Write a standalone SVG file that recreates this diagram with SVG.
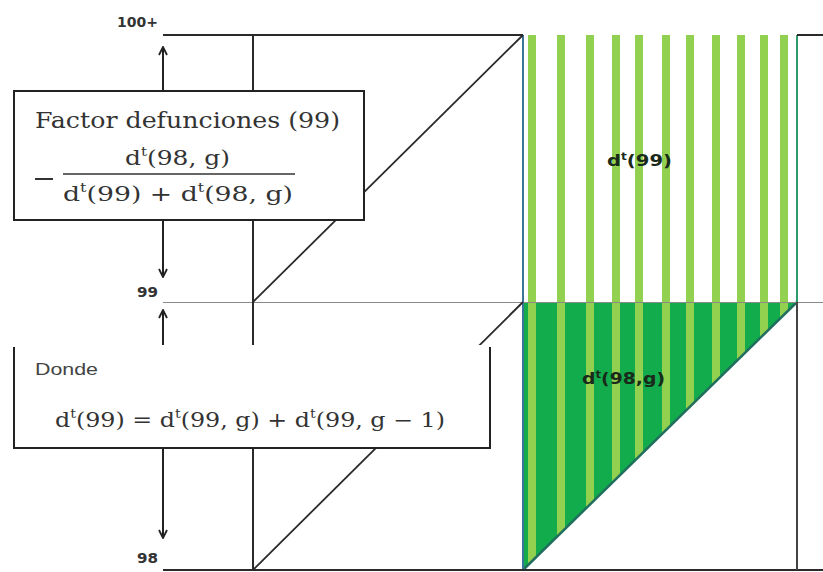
<svg xmlns="http://www.w3.org/2000/svg" width="823" height="572" viewBox="0 0 823 572">
<defs>
<style>
.ln{stroke:#2a2a2a;stroke-width:2;fill:none}
.thin{stroke:#8a8a8a;stroke-width:1.2;fill:none}
.arr{stroke:#222;stroke-width:2;fill:none;marker-end:url(#ah)}
.box{fill:#fff;stroke:#222;stroke-width:2}
.lbl{font-family:"DejaVu Sans",sans-serif;font-size:14px;font-weight:bold;fill:#333}
.math{font-family:"DejaVu Serif",serif;fill:#333}
.stripe{fill:#92D050}
.gl{font-family:"DejaVu Sans",sans-serif;font-weight:bold;font-size:16px;fill:#1a2a1a}
</style>
<marker id="ah" viewBox="0 0 10 10" refX="9" refY="5" markerWidth="10" markerHeight="10" markerUnits="userSpaceOnUse" orient="auto">
<path d="M1,1 L9,5 L1,9" fill="none" stroke="#222" stroke-width="1.8"/>
</marker>
<clipPath id="greenClip">
<polygon points="523,35 797,35 797,302 523,570"/>
</clipPath>
</defs>
<rect width="823" height="572" fill="#fff"/>

<g id="green-area">
<polygon points="523,302 797,302 523,570" fill="#12AC4C"/>
<g clip-path="url(#greenClip)">
<rect class="stripe" x="528" y="35" width="8" height="540"/>
<rect class="stripe" x="557" y="35" width="8" height="540"/>
<rect class="stripe" x="586" y="35" width="8" height="540"/>
<rect class="stripe" x="612" y="35" width="8" height="540"/>
<rect class="stripe" x="635" y="35" width="8" height="540"/>
<rect class="stripe" x="662" y="35" width="8" height="540"/>
<rect class="stripe" x="686" y="35" width="8" height="540"/>
<rect class="stripe" x="712" y="35" width="8" height="540"/>
<rect class="stripe" x="737" y="35" width="8" height="540"/>
<rect class="stripe" x="760" y="35" width="8" height="540"/>
<rect class="stripe" x="780" y="35" width="8" height="540"/>
</g>
<line x1="797" y1="302" x2="523" y2="570" stroke="#1F6E5E" stroke-width="2.5"/>
<line x1="523" y1="35" x2="523" y2="570" stroke="#3C7398" stroke-width="2"/>
<line x1="797" y1="35" x2="797" y2="302" stroke="#2E9A6A" stroke-width="2"/>
</g>

<g id="connectors">
<line class="ln" x1="163" y1="35" x2="523" y2="35"/>
<line class="ln" x1="797" y1="35" x2="823" y2="35"/>
<line class="thin" x1="163" y1="302.5" x2="823" y2="302.5"/>
<line class="ln" x1="163" y1="570" x2="823" y2="570"/>
<line class="ln" x1="253" y1="35" x2="253" y2="570"/>
<line class="ln" x1="797" y1="302" x2="797" y2="570" style="stroke:#444"/>
<line class="ln" x1="253" y1="302" x2="523" y2="35" style="stroke-width:1.8"/>
<line class="ln" x1="253" y1="570" x2="523" y2="302" style="stroke-width:1.8"/>
<line class="arr" x1="163" y1="91" x2="163" y2="47"/>
<line class="arr" x1="163" y1="220" x2="163" y2="277"/>
<line class="arr" x1="163" y1="346" x2="163" y2="310"/>
<line class="arr" x1="163" y1="448" x2="163" y2="538"/>
</g>

<g id="axis-labels">
<text class="lbl" x="117" y="27" textLength="41" lengthAdjust="spacingAndGlyphs">100+</text>
<text class="lbl" x="137" y="297" textLength="21" lengthAdjust="spacingAndGlyphs">99</text>
<text class="lbl" x="137" y="563" textLength="21" lengthAdjust="spacingAndGlyphs">98</text>
</g>

<g id="box-factor">
<rect class="box" x="14" y="91" width="350" height="129"/>
<text class="math" x="35" y="128" font-size="22" textLength="305" lengthAdjust="spacingAndGlyphs">Factor defunciones (99)</text>
<text class="math" x="125" y="165" font-size="20" textLength="105" lengthAdjust="spacingAndGlyphs">d<tspan font-size="12" dy="-9">t</tspan><tspan dy="9">(98, g)</tspan></text>
<line x1="35" y1="179" x2="53" y2="179" stroke="#333" stroke-width="2"/>
<line x1="63" y1="174" x2="295" y2="174" stroke="#333" stroke-width="1.6"/>
<text class="math" x="63" y="201" font-size="20" textLength="230" lengthAdjust="spacingAndGlyphs">d<tspan font-size="12" dy="-9">t</tspan><tspan dy="9">(99) + d</tspan><tspan font-size="12" dy="-9">t</tspan><tspan dy="9">(98, g)</tspan></text>
</g>

<g id="box-donde">
<rect x="14" y="345" width="476" height="103" fill="#fff"/>
<path d="M14,347 V448 H490 V347" fill="none" stroke="#222" stroke-width="2"/>
<text x="35" y="375" font-family="Liberation Sans, sans-serif" font-size="17" fill="#444" textLength="63" lengthAdjust="spacingAndGlyphs">Donde</text>
<text class="math" x="55" y="427" font-size="20" textLength="390" lengthAdjust="spacingAndGlyphs">d<tspan font-size="12" dy="-9">t</tspan><tspan dy="9">(99) = d</tspan><tspan font-size="12" dy="-9">t</tspan><tspan dy="9">(99, g) + d</tspan><tspan font-size="12" dy="-9">t</tspan><tspan dy="9">(99, g − 1)</tspan></text>
</g>

<g id="label-d99">
<text class="gl" x="607" y="166" textLength="65" lengthAdjust="spacingAndGlyphs">d<tspan font-size="10" dy="-6">t</tspan><tspan dy="6">(99)</tspan></text>
</g>
<g id="label-d98g">
<text class="gl" x="582" y="384" font-size="17" textLength="83" lengthAdjust="spacingAndGlyphs">d<tspan font-size="10" dy="-6">t</tspan><tspan dy="6">(98,g)</tspan></text>
</g>
</svg>
